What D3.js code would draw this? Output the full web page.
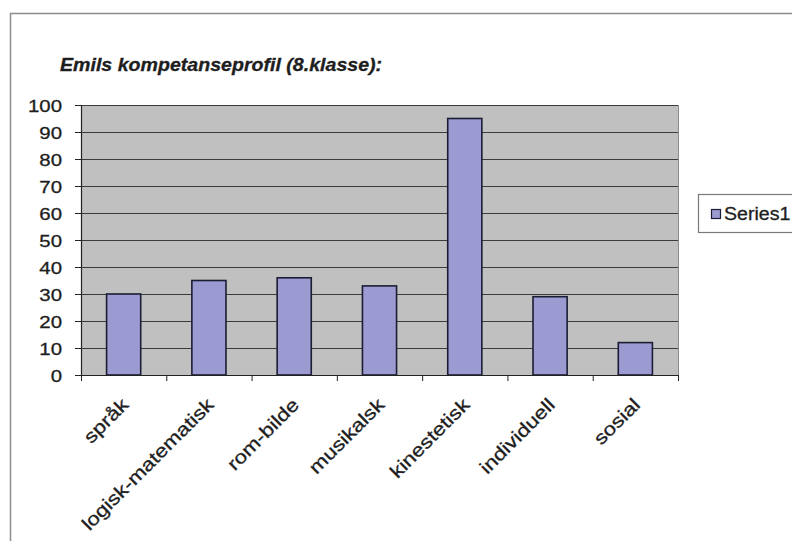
<!DOCTYPE html>
<html>
<head>
<meta charset="utf-8">
<script src="https://cdn.jsdelivr.net/npm/d3@7/dist/d3.min.js"></script>
<style>
  html, body { margin: 0; padding: 0; background: #fff; }
  svg { display: block; }
  text { font-family: "Liberation Sans", Arial, sans-serif; fill: #1e1e1e; stroke: #1e1e1e; stroke-width: 0.3px; }
</style>
</head>
<body>
<svg id="chart" width="792" height="541"></svg>
<script>
// Competence profile data
const title = "Emils kompetanseprofil (8.klasse):";
const categories = ["språk", "logisk-matematisk", "rom-bilde", "musikalsk", "kinestetisk", "individuell", "sosial"];
const values = [30, 35, 36, 33, 95, 29, 12];
const seriesName = "Series1";
const yTicks = [0, 10, 20, 30, 40, 50, 60, 70, 80, 90, 100];

const svg = d3.select("#chart");
const W = 792, H = 541;
const plot = { left: 81, right: 678, top: 105, bottom: 375 };
const WIDE = 1.2;       // horizontal stretch of axis lettering
const WIDE_T = 1.12;    // horizontal stretch of title / legend lettering

// outer chart frame (left and top edges)
svg.append("path")
  .attr("d", `M10.5,${H} V13.5 H${W}`)
  .attr("fill", "none").attr("stroke", "#8c8c8c").attr("stroke-width", 1.5);

// scales
const x = d3.scaleBand().domain(categories)
  .range([plot.left, plot.right]).paddingInner(0.6).paddingOuter(0.3);
const xEdge = d3.scaleLinear().domain([0, categories.length]).range([plot.left, plot.right]);
const y = d3.scaleLinear().domain([0, 100]).range([plot.bottom, plot.top]);

// plot area
svg.append("rect")
  .attr("x", plot.left).attr("y", plot.top)
  .attr("width", plot.right - plot.left).attr("height", plot.bottom - plot.top)
  .attr("fill", "#c0c0c0");
svg.append("line")
  .attr("x1", plot.right + 0.5).attr("x2", plot.right + 0.5)
  .attr("y1", plot.top).attr("y2", plot.bottom)
  .attr("stroke", "#8a8a8a").attr("stroke-width", 1);

// gridlines
svg.append("g").selectAll("line").data(yTicks.filter(t => t > 0)).join("line")
  .attr("x1", plot.left).attr("x2", plot.right)
  .attr("y1", d => Math.round(y(d)) + 0.5).attr("y2", d => Math.round(y(d)) + 0.5)
  .attr("stroke", "#3c3c3c").attr("stroke-width", 1);

// bars
svg.append("g").selectAll("rect").data(values).join("rect")
  .attr("x", (d, i) => x(categories[i]))
  .attr("y", d => y(d))
  .attr("width", x.bandwidth())
  .attr("height", d => y(0) - y(d))
  .attr("fill", "#9b9bd1")
  .attr("stroke", "#1c1c34").attr("stroke-width", 1.6);

// y axis
const gy = svg.append("g").attr("transform", `translate(${plot.left},0)`)
  .call(d3.axisLeft(y).tickValues(yTicks).tickSize(6).tickSizeOuter(0).tickPadding(13));
gy.select(".domain").attr("stroke", "#222").attr("stroke-width", 1.2);
gy.selectAll(".tick line").attr("stroke", "#222");
gy.selectAll(".tick text")
  .attr("font-size", 17).attr("font-family", null).attr("fill", null)
  .attr("x", -19 / WIDE).attr("dy", "0.36em")
  .attr("transform", `scale(${WIDE},1)`);

// x axis (ticks between categories)
const gx = svg.append("g").attr("transform", `translate(0,${plot.bottom})`)
  .call(d3.axisBottom(xEdge).tickValues(d3.range(categories.length + 1))
    .tickSize(6).tickSizeOuter(0).tickFormat(""));
gx.select(".domain").attr("stroke", "#222").attr("stroke-width", 1.2);
gx.selectAll(".tick line").attr("stroke", "#222");

// rotated category labels
svg.append("g").selectAll("text").data(categories).join("text")
  .attr("transform", d => `translate(${x(d) + x.bandwidth() / 2 + 6},${plot.bottom + 31}) rotate(-45) scale(${WIDE},1)`)
  .attr("text-anchor", "end")
  .attr("font-size", 18.5)
  .text(d => d);

// title
svg.append("text")
  .attr("transform", `translate(60,71) scale(${WIDE_T},1)`)
  .attr("font-size", 17.5).attr("font-weight", "bold").attr("font-style", "italic")
  .text(title);

// legend
const lg = svg.append("g");
lg.append("rect")
  .attr("x", 698.5).attr("y", 194.5).attr("width", 110).attr("height", 38)
  .attr("fill", "#fff").attr("stroke", "#7a7a7a").attr("stroke-width", 1.2);
lg.append("rect")
  .attr("x", 711.5).attr("y", 209.5).attr("width", 9).attr("height", 9)
  .attr("fill", "#9b9bd1").attr("stroke", "#1c1c34").attr("stroke-width", 1.2);
lg.append("text")
  .attr("transform", `translate(724,220) scale(${WIDE_T},1)`)
  .attr("font-size", 17.5)
  .text(seriesName);
</script>
</body>
</html>
